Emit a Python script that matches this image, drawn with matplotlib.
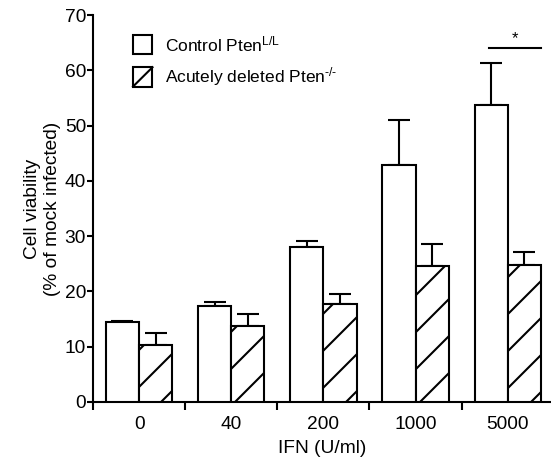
import numpy as np
import matplotlib
matplotlib.use("Agg")
from matplotlib import pyplot as plt
from matplotlib.patches import Rectangle
from matplotlib.lines import Line2D
from matplotlib.transforms import IdentityTransform

plt.rcParams['font.family'] = ['Liberation Sans', 'DejaVu Sans']
plt.rcParams['mathtext.fontset'] = 'custom'
plt.rcParams['mathtext.rm'] = 'Liberation Sans'
plt.rcParams['mathtext.default'] = 'regular'

doses = ['0', '40', '200', '1000', '5000']
control = [14.4, 17.4, 28.0, 42.8, 53.7]
control_err = [0.3, 0.7, 1.1, 8.2, 7.7]
deleted = [10.3, 13.7, 17.8, 24.6, 24.8]
deleted_err = [2.1, 2.3, 1.7, 3.9, 2.3]

W, H = 551, 462
fig = plt.figure(figsize=(W / 100, H / 100), dpi=100)
ax = fig.add_axes([93 / W, 60 / H, 458 / W, 387 / H])

x = np.arange(len(doses))
bw = 0.36
lw = 1.5
fs = 13.8
bars_c = ax.bar(x - bw / 2, control, bw, color='white', edgecolor='black', linewidth=lw, zorder=3)
bars_d = ax.bar(x + bw / 2, deleted, bw, color='white', edgecolor='black', linewidth=lw, zorder=3)
ax.errorbar(x - bw / 2, control, yerr=[np.zeros(5), control_err], fmt='none', ecolor='black',
            elinewidth=lw, capsize=8, capthick=lw, zorder=2)
ax.errorbar(x + bw / 2, deleted, yerr=[np.zeros(5), deleted_err], fmt='none', ecolor='black',
            elinewidth=lw, capsize=8, capthick=lw, zorder=2)

ax.set_xlim(-0.5, 4.47)
ax.set_ylim(0, 70)
ax.spines['top'].set_visible(False)
ax.spines['right'].set_visible(False)
ax.spines['left'].set_linewidth(lw)
ax.spines['bottom'].set_linewidth(lw)

ax.set_yticks(np.arange(0, 71, 10))
ax.tick_params(axis='y', direction='out', length=4, width=lw, labelsize=fs, pad=1)
ax.set_xticks(np.arange(-0.5, 4.0, 1.0))
ax.set_xticklabels([])
ax.set_xticks(x, minor=True)
ax.set_xticklabels(doses, minor=True)
ax.tick_params(axis='x', which='major', direction='out', length=6, width=lw)
ax.tick_params(axis='x', which='minor', length=0, labelsize=fs, pad=10)

ax.set_ylabel('Cell viability\n(% of mock infected)', fontsize=fs, labelpad=3)
ax.set_xlabel('IFN (U/ml)', fontsize=fs, labelpad=5)

# wide diagonal hatching drawn by hand (pixel space)
step = 37
for b in bars_d:
    ext = b.get_window_extent()
    c0 = ext.y0 - ext.x1 - step
    c = np.floor(c0 / step) * step + 10
    while c < ext.y1 - ext.x0 + step:
        xs = np.array([ext.x0 - 5, ext.x1 + 5])
        ln = Line2D(xs, xs + c, transform=IdentityTransform(), color='black', linewidth=lw)
        ln.set_clip_path(b)
        fig.add_artist(ln)
        c += step

# significance bar
ax.plot([3.8, 4.36], [64.1, 64.1], color='black', linewidth=lw, clip_on=False)
ax.text(4.08, 64.4, '*', ha='center', va='bottom', fontsize=12)

# legend drawn by hand
bx, bwid, bh = 0.0873, 0.0426, 0.05
for yb, label, hatched in [(0.8985, 'Control Pten$^{L/L}$', False),
                           (0.815, 'Acutely deleted Pten$^{\u2010/\u2010}$', True)]:
    ax.add_patch(Rectangle((bx, yb), bwid, bh, transform=ax.transAxes, facecolor='white',
                           edgecolor='black', linewidth=lw, clip_on=False))
    if hatched:
        ax.plot([bx, bx + bwid], [yb, yb + bh], transform=ax.transAxes, color='black',
                linewidth=lw, clip_on=False)
    ax.text(0.157, yb + bh / 2, label, transform=ax.transAxes, ha='left', va='center', fontsize=12.5)

fig.savefig('out.png', dpi=100)
